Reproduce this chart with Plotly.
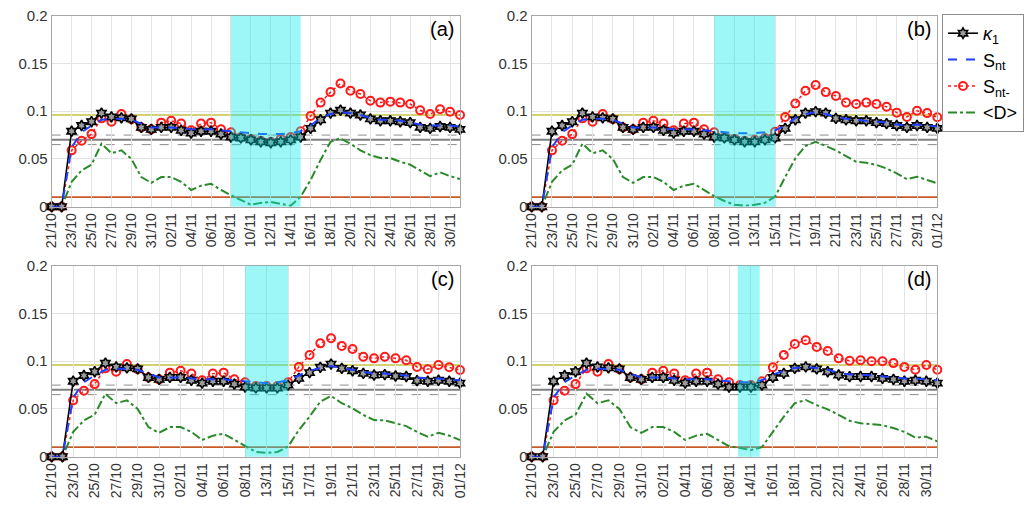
import plotly.graph_objects as go

# ---------------- data ----------------
ticks_a = ["21/10","23/10","25/10","27/10","29/10","31/10","02/11","04/11","06/11","08/11",
           "10/11","12/11","14/11","16/11","18/11","20/11","22/11","24/11","26/11","28/11","30/11"]
ticks_b = ["21/10","23/10","25/10","27/10","29/10","31/10","02/11","04/11","06/11","08/11",
           "10/11","13/11","15/11","17/11","19/11","21/11","23/11","25/11","27/11","29/11","01/12"]
ticks_c = ["21/10","23/10","25/10","27/10","29/10","31/10","02/11","04/11","06/11","08/11",
           "13/11","15/11","17/11","19/11","21/11","23/11","25/11","27/11","29/11","01/12"]
ticks_d = ["21/10","23/10","25/10","27/10","29/10","31/10","02/11","04/11","06/11","08/11",
           "14/11","16/11","18/11","20/11","22/11","24/11","26/11","28/11","30/11"]

kappa_a = [0, 0, 0.079, 0.085, 0.089, 0.098, 0.094, 0.093, 0.092, 0.083, 0.081, 0.083, 0.083, 0.080,
           0.077, 0.079, 0.079, 0.076, 0.073, 0.072, 0.070, 0.068, 0.067, 0.068, 0.070, 0.073, 0.082,
           0.091, 0.098, 0.101, 0.098, 0.096, 0.092, 0.090, 0.090, 0.089, 0.088, 0.083, 0.082, 0.084,
           0.083, 0.081]
snt_a = [0, 0, 0.062, 0.078, 0.085, 0.091, 0.092, 0.092, 0.091, 0.087, 0.083, 0.083, 0.083, 0.082,
         0.081, 0.081, 0.081, 0.080, 0.079, 0.078, 0.077, 0.076, 0.076, 0.076, 0.077, 0.079, 0.085,
         0.093, 0.097, 0.099, 0.098, 0.096, 0.093, 0.091, 0.091, 0.090, 0.088, 0.086, 0.085, 0.085,
         0.085, 0.084]
sntm_a = [0, 0, 0.059, 0.069, 0.076, 0.0925, 0.089, 0.097, 0.0915, 0.083, 0.081, 0.088, 0.090, 0.087,
          0.080, 0.087, 0.088, 0.081, 0.078, 0.073, 0.071, 0.069, 0.068, 0.071, 0.073, 0.079, 0.095,
          0.109, 0.120, 0.129, 0.1215, 0.118, 0.111, 0.109, 0.110, 0.109, 0.1075, 0.101, 0.097, 0.102,
          0.0995, 0.096]
dmean_a = [0, 0, 0.026, 0.038, 0.044, 0.066, 0.056, 0.059, 0.050, 0.031, 0.025, 0.031, 0.031, 0.026,
           0.0175, 0.022, 0.024, 0.0175, 0.012, 0.007, 0.002, 0.004, 0.005, 0.003, 0.001, 0.0105, 0.028,
           0.049, 0.068, 0.0716, 0.066, 0.059, 0.054, 0.051, 0.051, 0.047, 0.044, 0.038, 0.032, 0.036,
           0.032, 0.029]

kappa_b = [0, 0, 0.079, 0.085, 0.089, 0.098, 0.094, 0.093, 0.092, 0.083, 0.081, 0.083, 0.083, 0.080,
           0.077, 0.079, 0.079, 0.076, 0.073, 0.072, 0.070, 0.068, 0.068, 0.070, 0.072, 0.082, 0.091,
           0.098, 0.0995, 0.098, 0.0925, 0.091, 0.090, 0.090, 0.088, 0.087, 0.085, 0.083, 0.085, 0.083,
           0.082]
snt_b = [0, 0, 0.062, 0.078, 0.085, 0.091, 0.092, 0.092, 0.091, 0.087, 0.083, 0.083, 0.083, 0.082,
         0.081, 0.081, 0.081, 0.080, 0.079, 0.078, 0.077, 0.077, 0.077, 0.078, 0.080, 0.085, 0.093,
         0.097, 0.099, 0.097, 0.094, 0.092, 0.091, 0.090, 0.089, 0.088, 0.086, 0.085, 0.086, 0.085,
         0.084]
sntm_b = [0, 0, 0.059, 0.069, 0.076, 0.0925, 0.089, 0.097, 0.0915, 0.083, 0.081, 0.088, 0.090, 0.087,
          0.080, 0.087, 0.088, 0.081, 0.078, 0.073, 0.071, 0.069, 0.070, 0.072, 0.0785, 0.094, 0.108,
          0.1215, 0.1275, 0.120, 0.116, 0.109, 0.1075, 0.109, 0.1075, 0.1047, 0.0985, 0.094, 0.1005,
          0.098, 0.0936]
dmean_b = [0, 0, 0.026, 0.038, 0.044, 0.066, 0.056, 0.059, 0.050, 0.031, 0.025, 0.031, 0.031, 0.026,
           0.0175, 0.022, 0.024, 0.0175, 0.011, 0.006, 0.002, 0.001, 0.002, 0.004, 0.0105, 0.031,
           0.0507, 0.0636, 0.068, 0.0636, 0.059, 0.053, 0.047, 0.046, 0.0437, 0.040, 0.035, 0.0287,
           0.0314, 0.028, 0.0245]

kappa_c = [0, 0, 0.079, 0.085, 0.089, 0.098, 0.094, 0.093, 0.092, 0.083, 0.081, 0.083, 0.083, 0.080,
           0.077, 0.079, 0.079, 0.076, 0.073, 0.072, 0.072, 0.072, 0.075, 0.082, 0.088, 0.0936, 0.097,
           0.0925, 0.090, 0.0873, 0.0855, 0.086, 0.0845, 0.084, 0.0796, 0.079, 0.080, 0.079, 0.077]
snt_c = [0, 0, 0.062, 0.078, 0.085, 0.091, 0.092, 0.092, 0.091, 0.087, 0.083, 0.083, 0.083, 0.082,
         0.081, 0.081, 0.081, 0.080, 0.079, 0.078, 0.077, 0.078, 0.080, 0.085, 0.090, 0.093, 0.095,
         0.093, 0.091, 0.089, 0.087, 0.087, 0.086, 0.085, 0.083, 0.082, 0.082, 0.081, 0.080]
sntm_c = [0, 0, 0.059, 0.069, 0.076, 0.0925, 0.089, 0.097, 0.0915, 0.083, 0.081, 0.088, 0.090, 0.087,
          0.080, 0.087, 0.088, 0.081, 0.078, 0.074, 0.074, 0.074, 0.078, 0.094, 0.1065, 0.1187, 0.124,
          0.116, 0.1128, 0.1047, 0.103, 0.1047, 0.103, 0.101, 0.094, 0.0915, 0.096, 0.0936, 0.0908]
dmean_c = [0, 0, 0.026, 0.038, 0.044, 0.066, 0.056, 0.059, 0.050, 0.031, 0.025, 0.031, 0.031, 0.026,
           0.0175, 0.022, 0.024, 0.0175, 0.011, 0.005, 0.004, 0.005, 0.0105, 0.028, 0.042, 0.0576,
           0.0636, 0.056, 0.0507, 0.0437, 0.0384, 0.038, 0.035, 0.032, 0.026, 0.021, 0.025, 0.022,
           0.0175]

kappa_d = [0, 0, 0.079, 0.085, 0.089, 0.098, 0.094, 0.093, 0.092, 0.083, 0.081, 0.083, 0.083, 0.080,
           0.077, 0.079, 0.079, 0.076, 0.073, 0.073, 0.073, 0.075, 0.083, 0.0873, 0.0925, 0.094, 0.092,
           0.089, 0.0855, 0.0838, 0.084, 0.084, 0.082, 0.081, 0.079, 0.080, 0.079, 0.077]
snt_d = [0, 0, 0.062, 0.078, 0.085, 0.091, 0.092, 0.092, 0.091, 0.087, 0.083, 0.083, 0.083, 0.082,
         0.081, 0.081, 0.081, 0.080, 0.079, 0.078, 0.078, 0.080, 0.086, 0.090, 0.093, 0.094, 0.093,
         0.091, 0.088, 0.086, 0.086, 0.085, 0.084, 0.083, 0.082, 0.082, 0.081, 0.080]
sntm_d = [0, 0, 0.059, 0.069, 0.076, 0.0925, 0.089, 0.097, 0.0915, 0.083, 0.081, 0.088, 0.090, 0.087,
          0.080, 0.087, 0.088, 0.081, 0.078, 0.075, 0.075, 0.079, 0.0936, 0.1065, 0.118, 0.122, 0.115,
          0.1107, 0.103, 0.1005, 0.101, 0.100, 0.100, 0.098, 0.094, 0.091, 0.096, 0.091]
dmean_d = [0, 0, 0.026, 0.038, 0.044, 0.066, 0.056, 0.059, 0.050, 0.031, 0.025, 0.031, 0.031, 0.026,
           0.0175, 0.022, 0.024, 0.0175, 0.011, 0.009, 0.007, 0.010, 0.026, 0.042, 0.056, 0.0594, 0.054,
           0.0496, 0.0437, 0.0377, 0.035, 0.034, 0.033, 0.030, 0.026, 0.020, 0.021, 0.016]

panel_labels = ["(a)", "(b)", "(c)", "(d)"]
shaded = [(18, 25), (18, 24), (18, 22), (18.8, 20.8)]       # shaded periods (point index)
ref_levels = [0.096, 0.075, 0.070, 0.065, 0.010]

# ---------------- styling ----------------
panels = [
    (kappa_a, snt_a, sntm_a, dmean_a, ticks_a),
    (kappa_b, snt_b, sntm_b, dmean_b, ticks_b),
    (kappa_c, snt_c, sntm_c, dmean_c, ticks_c),
    (kappa_d, snt_d, sntm_d, dmean_d, ticks_d),
]
ref_styles = [("#c3c343", "solid", 1.6), ("#8c8c8c", "dash", 1.0), ("#7f7f7f", "solid", 2.0),
              ("#8c8c8c", "dash", 1.0), ("#c85a28", "solid", 1.8)]

OFF = 8                      # page body margin offset of the plot div
W, H = 1034 - OFF, 506 - OFF
def px(v):
    return (v - OFF) / W
def py(v):
    return 1 - (v - OFF) / H

xdoms = [(px(51.7), px(460)), (px(531.7), px(937.3))]
ydoms = [(py(206.7), py(15.7)), (py(456.7), py(265.7))]

fig = go.Figure()
layout = {}
shapes = []
annotations = []
FONT = "Liberation Sans, Arial, sans-serif"

STAR = dict(symbol="hexagram", size=8, color="#9a9a9a", line=dict(width=1.6, color="black"))
CIRC = dict(symbol="circle-open", size=8, color="#ff1a1a", line=dict(width=2, color="#ff1a1a"))

for p, (kap, snt, sntm, dm, ticks) in enumerate(panels):
    r, c = divmod(p, 2)
    n = len(kap)
    xs = list(range(n))
    sfx = "" if p == 0 else str(p + 1)
    xa, ya = "x" + sfx, "y" + sfx
    fig.add_trace(go.Scatter(x=xs, y=dm, xaxis=xa, yaxis=ya, mode="lines", name="&lt;D&gt;",
                             line=dict(color="#2a8a2a", width=2, dash="dashdot"),
                             showlegend=False, cliponaxis=False))
    fig.add_trace(go.Scatter(x=xs, y=sntm, xaxis=xa, yaxis=ya, mode="lines+markers",
                             name="S<sub>nt-</sub>",
                             line=dict(color="#ff1a1a", width=1.5, dash="dot"),
                             marker=CIRC, showlegend=False, cliponaxis=False))
    fig.add_trace(go.Scatter(x=xs, y=kap, xaxis=xa, yaxis=ya, mode="lines+markers",
                             name="<i>κ</i><sub>1</sub>",
                             line=dict(color="black", width=1.6),
                             marker=STAR, showlegend=False, cliponaxis=False))
    fig.add_trace(go.Scatter(x=xs, y=snt, xaxis=xa, yaxis=ya, mode="lines", name="S<sub>nt</sub>",
                             line=dict(color="#1f3fff", width=2, dash="dash"),
                             showlegend=False, cliponaxis=False))

    axis_common = dict(showline=True, mirror=True, linecolor="#a6a6a6", linewidth=1,
                       showgrid=True, gridcolor="#e3e3e3", gridwidth=1, zeroline=False,
                       ticks="", automargin=False, ticklabeloverflow="allow")
    layout["xaxis" + sfx] = dict(axis_common, domain=xdoms[c], anchor=ya, range=[0, n - 1],
                                 tickvals=list(range(0, n, 2)), ticktext=ticks, tickangle=-90,
                                 tickfont=dict(family=FONT, size=14, color="#333333"))
    layout["yaxis" + sfx] = dict(axis_common, domain=ydoms[r], anchor=xa, range=[0, 0.2],
                                 tickvals=[0, 0.05, 0.1, 0.15, 0.2],
                                 ticktext=["0", "0.05", "0.1", "0.15", "0.2"],
                                 tickfont=dict(family=FONT, size=15, color="#333333"))
    for lev, (col, dsh, wd) in zip(ref_levels, ref_styles):
        shapes.append(dict(type="line", xref=xa + " domain", yref=ya, x0=0, x1=1, y0=lev, y1=lev,
                           line=dict(color=col, dash=dsh, width=wd), layer="below"))
    s0, s1 = shaded[p]
    shapes.append(dict(type="rect", xref=xa, yref=ya + " domain", x0=s0, x1=s1, y0=0, y1=1,
                       fillcolor="rgba(0,235,235,0.38)", line=dict(width=0), layer="above"))
    annotations.append(dict(text=panel_labels[p], xref=xa + " domain", yref=ya + " domain",
                            x=0.99, y=1.0, xanchor="right", yanchor="top", showarrow=False,
                            font=dict(family=FONT, size=20, color="black")))

# legend-only traces (order as in reference)
fig.add_trace(go.Scatter(x=[None], y=[None], mode="lines+markers", name="<i>κ</i><sub>1</sub>",
                         line=dict(color="black", width=1.6), marker=STAR))
fig.add_trace(go.Scatter(x=[None], y=[None], mode="lines", name="S<sub>nt</sub>",
                         line=dict(color="#1f3fff", width=2, dash="dash")))
fig.add_trace(go.Scatter(x=[None], y=[None], mode="lines+markers", name="S<sub>nt-</sub>",
                         line=dict(color="#ff1a1a", width=1.5, dash="dot"), marker=CIRC))
fig.add_trace(go.Scatter(x=[None], y=[None], mode="lines", name="&lt;D&gt;",
                         line=dict(color="#2a8a2a", width=2, dash="dashdot")))

fig.update_layout(**layout)
fig.update_layout(
    width=W, height=H, margin=dict(l=0, r=0, t=0, b=0, autoexpand=False),
    paper_bgcolor="white", plot_bgcolor="white",
    font=dict(family=FONT, color="#222222"),
    shapes=shapes, annotations=annotations,
    showlegend=True,
    legend=dict(x=px(942), y=py(14), xanchor="left", yanchor="top",
                bordercolor="#8c8c8c", borderwidth=1, bgcolor="white",
                font=dict(family=FONT, size=18, color="black"),
                itemwidth=30, tracegroupgap=0),
)

fig.write_html("out.html")
